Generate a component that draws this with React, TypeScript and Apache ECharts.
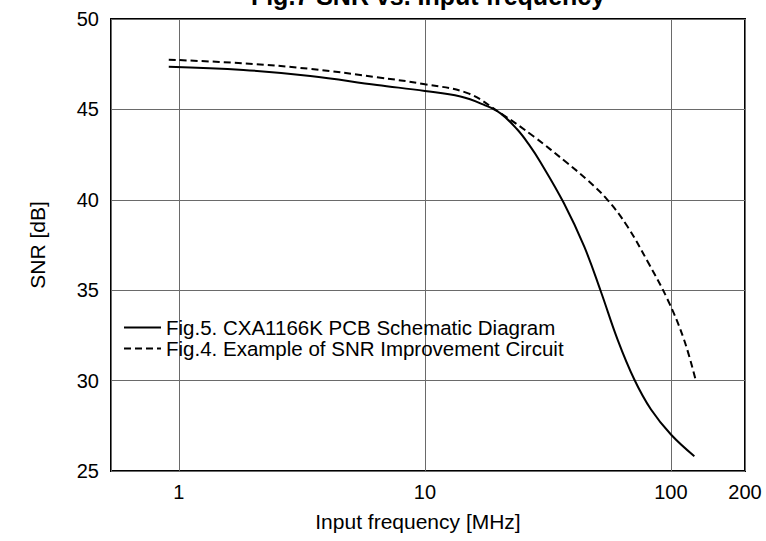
import React, { useEffect, useRef } from "react";
import * as echarts from "echarts";

const titleText = "Fig.7 SNR vs. Input frequency";
const xName = "Input frequency [MHz]";
const yName = "SNR [dB]";
const seriesNames = [
  "Fig.5. CXA1166K PCB Schematic Diagram",
  "Fig.4. Example of SNR Improvement Circuit",
];

const solidFreq = [0.91, 1.83, 3.42, 6.39, 10, 13.95, 17.4, 20.3, 23.7, 26.5, 29.5, 36.7, 44.4, 51.9, 60.7, 71, 83, 100, 124.5];
const solidSnr = [47.36, 47.18, 46.85, 46.35, 46.02, 45.71, 45.25, 44.78, 43.9, 43.05, 42.08, 39.82, 37.42, 34.93, 32.27, 30.06, 28.4, 27.02, 25.82];

const dashFreq = [0.91, 1.83, 3.42, 6.39, 10, 14.9, 20.3, 27.7, 37.9, 45.7, 55.2, 66.6, 80.3, 96.8, 113, 126.4];
const dashSnr = [47.75, 47.55, 47.24, 46.78, 46.39, 45.9, 44.79, 43.5, 42.03, 41.1, 40.0, 38.52, 36.6, 34.5, 32.27, 29.96];

const xMin = 0.53;
const xMax = 200;
const yMin = 25;
const yMax = 50;
const yStep = 5;

const FONT = '"Liberation Sans", Arial, Helvetica, sans-serif';

export default function App() {
  const ref = useRef<HTMLDivElement>(null);
  useEffect(() => {
    if (!ref.current) return;
    const chart = echarts.init(ref.current, undefined, { renderer: "svg" });
    const pair = (xs: number[], ys: number[]) => xs.map((x, i) => [x, ys[i]]);
    chart.setOption({
      animation: false,
      backgroundColor: "#ffffff",
      textStyle: { fontFamily: FONT },
      graphic: [
        {
          type: "text",
          x: 428,
          y: -3.7,
          style: {
            text: titleText,
            font: `bold 25px ${FONT}`,
            fill: "#000",
            align: "center",
            verticalAlign: "middle",
          },
        },
      ],
      legend: {
        orient: "vertical",
        left: 123,
        top: 317,
        padding: 0,
        itemGap: 0,
        itemWidth: 37,
        itemHeight: 14,
        data: seriesNames,
        itemStyle: { opacity: 0, borderWidth: 0 },
        textStyle: { fontSize: 20.5, color: "#000", lineHeight: 20, fontFamily: FONT },
      },
      grid: {
        left: 111,
        right: 21,
        top: 19,
        bottom: 70,
        show: true,
        borderColor: "#000",
        borderWidth: 2,
      },
      xAxis: {
        type: "log",
        logBase: 10,
        min: xMin,
        max: xMax,
        name: xName,
        nameLocation: "middle",
        nameGap: 40,
        nameTextStyle: { fontSize: 21, color: "#000", padding: [0, 20, 0, 0] },
        axisLine: { show: false },
        axisTick: { show: false },
        minorTick: { show: false },
        axisLabel: {
          fontSize: 20,
          color: "#000",
          margin: 11,
          showMinLabel: false,
          showMaxLabel: true,
          formatter: (v: number) => (v >= 1 ? String(Math.round(v)) : ""),
        },
        splitLine: { show: true, lineStyle: { color: "#6a6a6a", width: 1 } },
      },
      yAxis: {
        type: "value",
        min: yMin,
        max: yMax,
        interval: yStep,
        name: yName,
        nameLocation: "middle",
        nameGap: 63,
        nameTextStyle: { fontSize: 21, color: "#000" },
        axisLine: { show: false },
        axisTick: { show: false },
        axisLabel: { fontSize: 20, color: "#000", margin: 12 },
        splitLine: { show: true, lineStyle: { color: "#6a6a6a", width: 1 } },
      },
      series: [
        {
          name: seriesNames[0],
          type: "line",
          data: pair(solidFreq, solidSnr),
          smooth: 0.4,
          showSymbol: false,
          symbol: "none",
          lineStyle: { color: "#000", width: 2, type: "solid" },
          itemStyle: { color: "#000" },
        },
        {
          name: seriesNames[1],
          type: "line",
          data: pair(dashFreq, dashSnr),
          smooth: 0.4,
          showSymbol: false,
          symbol: "none",
          lineStyle: { color: "#000", width: 2, type: [7, 4] },
          itemStyle: { color: "#000" },
        },
      ],
    });
    return () => chart.dispose();
  }, []);
  return (
    <div
      ref={ref}
      style={{ position: "fixed", left: 0, top: 0, width: 766, height: 541 }}
    />
  );
}
